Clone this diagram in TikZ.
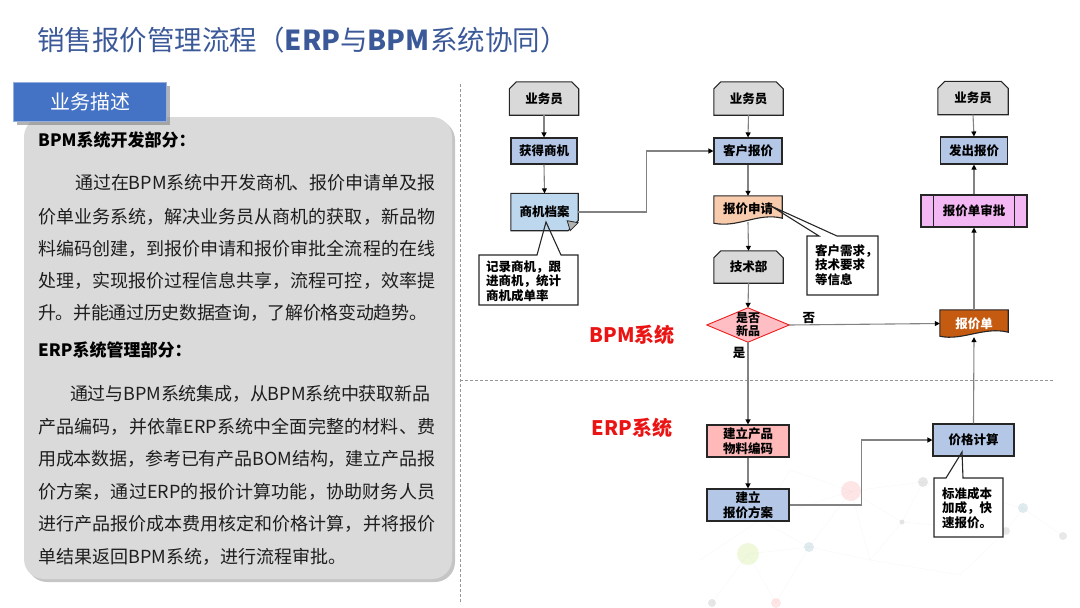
\documentclass[tikz,border=0pt]{standalone}
\usepackage{fontspec}
\setmainfont{Noto Sans CJK SC}
\usetikzlibrary{arrows.meta,shadows,calc}
\pgfdeclarelayer{deco}
\pgfdeclarelayer{background}
\pgfsetlayers{deco,background,main}

\definecolor{titleblue}{RGB}{59,89,152}
\definecolor{textdark}{RGB}{30,30,30}
\definecolor{boxline}{RGB}{38,38,38}
\definecolor{connc}{RGB}{130,130,130}
\definecolor{actfill}{RGB}{217,217,217}
\definecolor{lblue}{RGB}{180,199,231}
\definecolor{lblue2}{RGB}{189,215,238}
\definecolor{orangeA}{RGB}{248,203,173}
\definecolor{pinkdec}{RGB}{255,190,196}
\definecolor{redline}{RGB}{235,30,30}
\definecolor{magentaA}{RGB}{243,183,243}
\definecolor{brownA}{RGB}{197,90,17}
\definecolor{salmonA}{RGB}{255,185,185}
\definecolor{redlabel}{RGB}{235,20,20}
\definecolor{panelgrey}{RGB}{218,218,218}
\definecolor{tabblue}{RGB}{68,114,196}
\definecolor{tabborder}{RGB}{150,175,222}
\definecolor{dashc}{RGB}{150,150,150}

\newskip\jsglue \jsglue=0pt plus 1fil minus 1fil
\def\jstop{\jstop}
\def\jspread#1{\def\jstmp{#1}\ifx\jstmp\jstop\else#1\hskip\jsglue\expandafter\jspread\fi}
\newcommand\jline[2]{\hbox to #1{\jspread #2\jstop\unskip}}

\newcommand\bodyfont{\fontsize{18}{18}\selectfont}
\newcommand\flowfont{\fontsize{12.5}{15}\selectfont\bfseries}

\tikzset{
  bodytxt/.style={anchor=west, inner sep=0pt, font=\bodyfont, text=textdark},
  headtxt/.style={anchor=west, inner sep=0pt, font=\fontsize{17}{17}\selectfont\bfseries, text=black},
  fbox/.style={inner sep=0pt, align=center, font=\flowfont, text=black},
  rbox/.style={fbox, draw=boxline, line width=1.1pt},
  conn/.style={draw=connc, line width=1.1pt, -{Triangle[length=5pt,width=5pt,color=black]}},
  shapeline/.style={draw=boxline, line width=1.1pt},
  calltxt/.style={anchor=west, inner sep=0pt, align=left, font=\fontsize{12.5}{14.5}\selectfont\bfseries, text=black},
  syslabel/.style={inner sep=0pt, font=\fontsize{20}{20}\selectfont\bfseries, text=redlabel},
}

\newcommand\actorpath[1]{%
  \path[fill=actfill, shapeline] (#1.south west) -- ([yshift=-7pt]#1.north west) -- ([xshift=7pt]#1.north west)
    -- ([xshift=-7pt]#1.north east) -- ([yshift=-7pt]#1.north east) -- (#1.south east) -- cycle;}

\begin{document}
\begin{tikzpicture}[x=1pt,y=-1pt]
\useasboundingbox (0,0) rectangle (1080,608);

% decorative background
\begin{pgfonlayer}{deco}
  \begin{scope}[draw=gray, opacity=0.06, line width=0.5pt]
    \draw (700,560) -- (760,520) -- (851,491) -- (923,482) -- (1023,508) -- (1063,536);
    \draw (748,554) -- (809,547) -- (851,491) -- (902,522) -- (1006,531) -- (1023,508);
    \draw (712,603) -- (748,554) -- (776,603) -- (809,547) -- (870,560) -- (902,522);
    \draw (790,470) -- (851,491) -- (870,560) -- (960,575) -- (1006,531);
    \draw (760,520) -- (809,547) (790,470) -- (760,520) (923,482) -- (902,522);
  \end{scope}
  \fill[red!45, opacity=0.22] (851,491) circle (10);
  \fill[gray, opacity=0.2] (923,482) circle (5);
  \fill[cyan!40!gray, opacity=0.22] (1023,508) circle (5);
  \fill[gray, opacity=0.2] (902,522) circle (2.5);
  \fill[gray, opacity=0.18] (1006,531) circle (4);
  \fill[gray, opacity=0.18] (1063,536) circle (4);
  \fill[cyan!40!gray, opacity=0.22] (809,547) circle (5);
  \fill[yellow!60!green, opacity=0.16] (748,554) circle (11);
  \fill[gray, opacity=0.2] (712,603) circle (4);
  \fill[red!45, opacity=0.22] (776,603) circle (5);
\end{pgfonlayer}

% title
\node[anchor=west, inner sep=0pt, text=titleblue, font=\fontsize{27.5}{27.5}\selectfont] (title) at (37,40)
  {销售报价管理流程（\textbf{ERP}与\textbf{BPM}系统协同）};

% left panel
\fill[panelgrey, rounded corners=20pt, drop shadow={shadow xshift=3pt, shadow yshift=-3pt, fill=black!45, opacity=0.5}]
  (24,117) rectangle (452,579);
\node[fill=tabblue, draw=tabborder, line width=1pt, minimum width=153pt, minimum height=39pt, inner sep=0pt,
  text=white, font=\fontsize{20}{20}\selectfont, drop shadow={shadow xshift=3pt, shadow yshift=-3pt, fill=black!50, opacity=0.6}]
  (tab) at (90,102) {业务描述};

\node[headtxt] (h1) at (38,140) {BPM系统开发部分：};
\node[bodytxt] (p1a) at (75,183) {\jline{360pt}{通过在{BPM}系统中开发商机、报价申请单及报}};
\node[bodytxt] (p1b) at (38,217) {\jline{397pt}{价单业务系统，解决业务员从商机的获取，新品物}};
\node[bodytxt] (p1c) at (38,249) {\jline{397pt}{料编码创建，到报价申请和报价审批全流程的在线}};
\node[bodytxt] (p1d) at (38,281) {\jline{397pt}{处理，实现报价过程信息共享，流程可控，效率提}};
\node[bodytxt] (p1e) at (38,313) {\jline{389pt}{升。并能通过历史数据查询，了解价格变动趋势。}};

\node[headtxt] (h2) at (38,350) {ERP系统管理部分：};
\node[bodytxt] (p2a) at (70,394) {\jline{360pt}{通过与{BPM}系统集成，从{BPM}系统中获取新品}};
\node[bodytxt] (p2b) at (38,427) {\jline{397pt}{产品编码，并依靠{ERP}系统中全面完整的材料、费}};
\node[bodytxt] (p2c) at (38,459) {\jline{397pt}{用成本数据，参考已有产品{BOM}结构，建立产品报}};
\node[bodytxt] (p2d) at (38,492) {\jline{397pt}{价方案，通过{ERP}的报价计算功能，协助财务人员}};
\node[bodytxt] (p2e) at (38,524) {\jline{397pt}{进行产品报价成本费用核定和价格计算，并将报价}};
\node[bodytxt] (p2f) at (38,557) {单结果返回BPM系统，进行流程审批。};

% separators
\draw[dashc, line width=0.8pt, dash pattern=on 3pt off 2pt] (460,84) -- (460,604);
\draw[dashc, line width=0.8pt, dash pattern=on 3pt off 2pt] (460,380) -- (1054,380);

\node[syslabel] (bpm) at (632,335) {BPM系统};
\node[syslabel] (erp) at (632,428) {ERP系统};

% flow nodes
\node[fbox, minimum width=69pt, minimum height=33pt] (u1) at (544,98.5) {业务员};
\node[rbox, fill=lblue, minimum width=66pt, minimum height=26pt] (g1) at (544,151) {获得商机};
\node[fbox, minimum width=67pt, minimum height=37pt] (d1) at (544.5,212) {商机档案};

\node[fbox, minimum width=69pt, minimum height=33pt] (u2) at (748.5,98.5) {业务员};
\node[rbox, fill=lblue, minimum width=68pt, minimum height=26pt] (k2) at (748,151) {客户报价};
\node[fbox, minimum width=68pt, minimum height=26pt] (s2) at (748,209) {报价申请};
\node[fbox, minimum width=69pt, minimum height=32pt] (t2) at (748.5,267) {技术部};
\node[fbox, minimum width=82pt, minimum height=34pt, font=\fontsize{12}{13}\selectfont\bfseries] (dec) at (748,325) {是否\\新品};

\node[fbox, minimum width=70pt, minimum height=33pt] (u3) at (973,98) {业务员};
\node[rbox, fill=lblue, minimum width=67pt, minimum height=27pt] (fa) at (974,150.5) {发出报价};
\node[rbox, fill=magentaA, minimum width=106pt, minimum height=32pt] (ap) at (974,211) {报价单审批};
\node[fbox, minimum width=68pt, minimum height=27pt, text=white] (bd) at (974,323.5) {报价单};

\node[rbox, fill=salmonA, minimum width=82pt, minimum height=32pt] (e1) at (748,441) {建立产品\\物料编码};
\node[rbox, fill=lblue, minimum width=82pt, minimum height=32pt] (e2) at (748,505) {建立\\报价方案};
\node[rbox, fill=lblue, minimum width=81pt, minimum height=32pt] (pc) at (973.5,440) {价格计算};

% special shapes beneath text
\begin{pgfonlayer}{background}
  \actorpath{u1}
  \actorpath{u2}
  \actorpath{u3}
  \actorpath{t2}
  % note with folded corner
  \path[fill=lblue2, shapeline] (d1.north west) -- (d1.north east) -- ([yshift=10pt]d1.south east)
    -- ([xshift=-10pt]d1.south east) -- (d1.south west) -- cycle;
  \path[fill=gray!60, draw=boxline, line width=0.8pt] ([yshift=8pt]d1.south east) -- ([xshift=-8pt]d1.south east)
    -- ([xshift=-11pt,yshift=10pt]d1.south east) -- cycle;
  % document shapes
  \path[fill=orangeA, shapeline] (s2.north west) -- (s2.north east) -- ([yshift=4pt]s2.south east)
    .. controls ([xshift=-24pt,yshift=10pt]s2.south east) and ([xshift=24pt,yshift=-6pt]s2.south west) .. ([yshift=-1pt]s2.south west) -- cycle;
  \path[fill=brownA, shapeline] (bd.north west) -- (bd.north east) -- ([yshift=5pt]bd.south east)
    .. controls ([xshift=-24pt,yshift=11pt]bd.south east) and ([xshift=22pt,yshift=-4pt]bd.south west) .. ([yshift=1pt]bd.south west) -- cycle;
  % diamond
  \path[fill=pinkdec, draw=redline, line width=0.9pt] (dec.west) -- (dec.north) -- (dec.east) -- (dec.south) -- cycle;
\end{pgfonlayer}
% predefined process bars
\draw[shapeline] ([xshift=13pt]ap.north west) -- ([xshift=13pt]ap.south west);
\draw[shapeline] ([xshift=-13pt]ap.north east) -- ([xshift=-13pt]ap.south east);

% connectors
\draw[conn] (u1.south) -- (g1.north);
\draw[conn] (g1.south) -- (d1.north);
\draw[conn] (d1.east) -- ++(68,0) |- (k2.west);
\draw[conn] (u2.south) -- (k2.north);
\draw[conn] (k2.south) -- (s2.north);
\draw[conn] (s2.south) -- (t2.north);
\draw[conn] (t2.south) -- (dec.north);
\draw[conn] (dec.east) -- node[pos=0.13, above=1pt, font=\flowfont, inner sep=0pt] (no) {否} (bd.west);
\draw[conn] (dec.south) -- node[pos=0.13, left=2pt, font=\flowfont, inner sep=0pt] (yes) {是} (e1.north);
\draw[conn] (e1.south) -- (e2.north);
\draw[conn] (e2.east) -- ++(72,0) |- (pc.west);
\draw[conn] (pc.north) -- (bd.south);
\draw[conn] (bd.north) -- (ap.south);
\draw[conn] (ap.north) -- (fa.south);
\draw[conn] (u3.south) -- (fa.north);

% callouts
\fill[white] (479,255) rectangle (578,305);
\draw[shapeline] (537,255) -- (546,222) -- (561,255) -- (578,255) -- (578,305) -- (479,305) -- (479,255) -- cycle;
\node[calltxt] (c1) at (486,281) {记录商机，跟\\进商机，统计\\商机成单率};

\fill[white] (807,236) rectangle (878,295);
\draw[shapeline] (819,236) -- (771,206) -- (837,236) -- (878,236) -- (878,295) -- (807,295) -- (807,236) -- cycle;
\node[calltxt] (c2) at (815,265) {客户需求，\\技术要求\\等信息};

\fill[white] (934,478) rectangle (1003,537);
\draw[shapeline] (946,478) -- (962,452) -- (963,478) -- (1003,478) -- (1003,537) -- (934,537) -- (934,478) -- cycle;
\node[calltxt] (c3) at (942,508) {标准成本\\加成，快\\速报价。};

\end{tikzpicture}
\end{document}
